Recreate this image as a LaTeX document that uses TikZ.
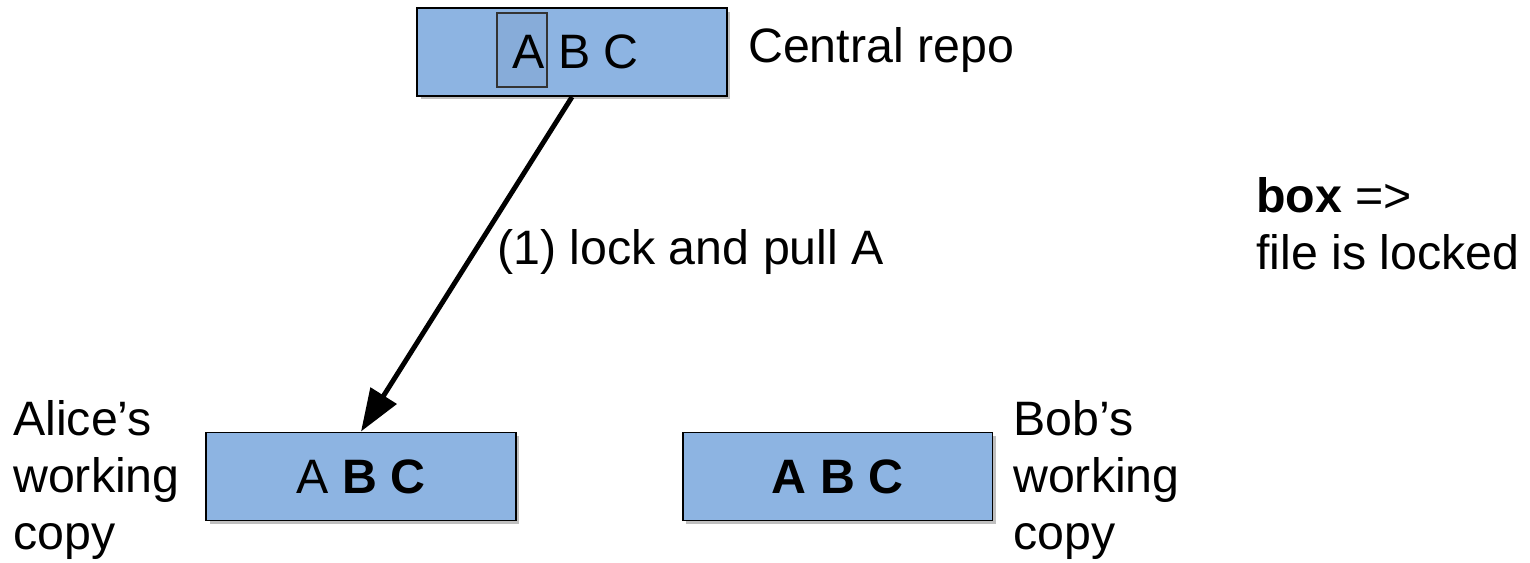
\documentclass[tikz,border=0pt]{standalone}
\usepackage{fontspec}
\setmainfont{Liberation Sans}
\usetikzlibrary{arrows.meta,shadows}
\definecolor{boxblue}{RGB}{141,180,226}
\begin{document}
\begin{tikzpicture}[x=0.02cm,y=-0.02cm,
	every node/.style={font=\fontsize{27.5}{32.4}\selectfont},
	copybox/.style={draw=black,line width=1.1pt,fill=boxblue,minimum width=6.2cm,minimum height=1.76cm,
		drop shadow={shadow xshift=2pt,shadow yshift=-2pt,fill=black,opacity=0.25}},
	lockbox/.style={draw=black!80,line width=1pt,fill=black,fill opacity=0.04,minimum width=1cm,minimum height=1.48cm,inner sep=0pt}]
			\useasboundingbox (0,0) rectangle (1530,563);
			\node[copybox,text depth=0pt] (central) at (572,52) {\hspace{4pt}A B C};
			\node[lockbox] (lock) at (522,50) {};
			\node[copybox] (alice) at (361,476.5) {A \textbf{B C}};
			\node[copybox] (bob) at (837.5,476.5) {\textbf{A B C}};
			\draw[line width=2.8pt,-{Triangle[length=0.85cm,width=0.6cm]}] (central.south) -- (alice.north);
			\node[anchor=west] (centrallabel) at (742,50) {Central repo};
			\node[anchor=west] (pulllabel) at (491,252) {(1) lock and pull A};
			\node[anchor=west,align=left] (alicelabel) at (7,480) {Alice’s\\working\\copy};
			\node[anchor=west,align=left] (boblabel) at (1007,480) {Bob’s\\working\\copy};
			\node[anchor=west,align=left] (legend) at (1250,224) {\textbf{box} =>\\file is locked};
		\end{tikzpicture}
\end{document}
